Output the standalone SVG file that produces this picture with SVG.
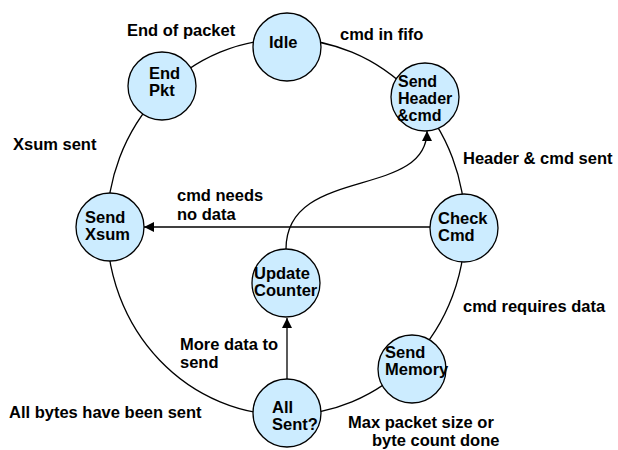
<svg xmlns="http://www.w3.org/2000/svg" width="618" height="450" viewBox="0 0 618 450">
<style>
.n{fill:#CCECFF;stroke:#000;stroke-width:1.3}
.c{fill:none;stroke:#000;stroke-width:1.3}
text{font-family:"Liberation Sans",Arial,sans-serif;font-weight:bold;font-size:16.5px;fill:#000}
.t{font-size:16px}
</style>
<defs>
<marker id="ah" viewBox="0 0 10 10" refX="10" refY="5" markerWidth="10" markerHeight="10" markerUnits="userSpaceOnUse" orient="auto">
<path d="M0,0 L10,5 L0,10 z" fill="#000"/>
</marker>
</defs>
<rect width="618" height="450" fill="#fff"/>
<g id="connectors">
<ellipse class="c" cx="286" cy="227" rx="179" ry="188"/>
<path class="c" d="M430,227 L144,227" marker-end="url(#ah)"/>
<path class="c" d="M287,379 L287,318" marker-end="url(#ah)"/>
<path class="c" d="M286,249 C286,165 427,200 427,131" marker-end="url(#ah)"/>
</g>
<g id="labels">
<text x="127" y="36">End of packet</text>
<text x="340" y="40">cmd in fifo</text>
<text x="463" y="164">Header &amp; cmd sent</text>
<text x="13" y="150">Xsum sent</text>
<text x="177" y="201">cmd needs</text>
<text x="177" y="220">no data</text>
<text x="463" y="312">cmd requires data</text>
<text x="180" y="350">More data to</text>
<text x="180" y="368">send</text>
<text x="9" y="418">All bytes have been sent</text>
<text x="348" y="428">Max packet size or</text>
<text x="372" y="446">byte count done</text>
</g>
<g id="idle">
<circle class="n" cx="287" cy="47" r="34"/>
<text x="269" y="48">Idle</text>
</g>
<g id="endpkt">
<circle class="n" cx="162" cy="86" r="34"/>
<text x="149" y="79">End</text>
<text x="149" y="96">Pkt</text>
</g>
<g id="sendheader">
<circle class="n" cx="425" cy="97" r="34"/>
<text class="t" x="398" y="87">Send</text>
<text class="t" x="398" y="104">Header</text>
<text class="t" x="397" y="121">&amp;cmd</text>
</g>
<g id="checkcmd">
<circle class="n" cx="464" cy="228" r="34"/>
<text x="438" y="224">Check</text>
<text x="438" y="241">Cmd</text>
</g>
<g id="sendxsum">
<circle class="n" cx="110" cy="227" r="34"/>
<text x="85" y="223">Send</text>
<text x="85" y="240">Xsum</text>
</g>
<g id="updatecounter">
<circle class="n" cx="286" cy="283" r="34"/>
<text x="254" y="279">Update</text>
<text x="254" y="296">Counter</text>
</g>
<g id="sendmemory">
<circle class="n" cx="412" cy="369" r="34"/>
<text x="385" y="358">Send</text>
<text x="385" y="375">Memory</text>
</g>
<g id="allsent">
<circle class="n" cx="287" cy="413" r="34"/>
<text x="272" y="413">All</text>
<text x="272" y="430">Sent?</text>
</g>
</svg>
